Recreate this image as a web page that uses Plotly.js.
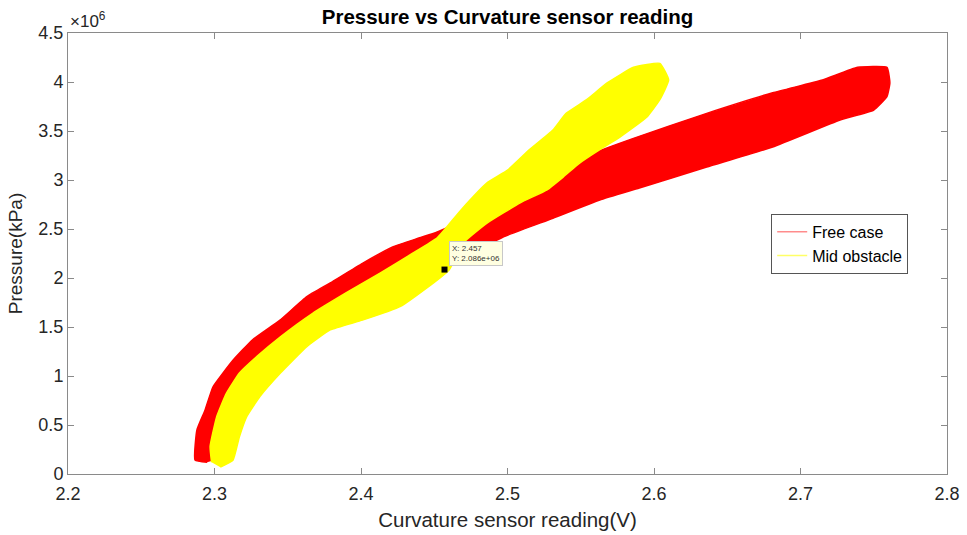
<!DOCTYPE html>
<html>
<head>
<meta charset="utf-8">
<script src="https://cdn.plot.ly/plotly-3.0.1.min.js"></script>
<style>html,body{margin:0;padding:0;background:#fff;}#chart{width:967px;height:535px;}</style>
</head>
<body>
<div id="chart"></div>
<script>
// Free case band outline (sensor reading V, pressure Pa): left/top edge going up, then right/lower edge coming down
const freeX = [2.295, 2.2867, 2.288, 2.2935, 2.299, 2.3126, 2.326, 2.3447, 2.363, 2.379, 2.401, 2.422, 2.440, 2.452, 2.49, 2.527, 2.538, 2.558, 2.585, 2.636, 2.681, 2.715, 2.739, 2.759,
               2.761, 2.759, 2.750, 2.727, 2.681, 2.636, 2.590, 2.563, 2.531, 2.497, 2.463, 2.44, 2.41, 2.37, 2.335, 2.31, 2.302];
const freeY = [0.12e6, 0.143e6, 0.45e6, 0.65e6, 0.89e6, 1.16e6, 1.37e6, 1.57e6, 1.81e6, 1.95e6, 2.15e6, 2.32e6, 2.41e6, 2.47e6, 2.72e6, 2.97e6, 3.10e6, 3.27e6, 3.42e6, 3.68e6, 3.89e6, 4.02e6, 4.15e6, 4.15e6,
               3.99e6, 3.85e6, 3.714e6, 3.612e6, 3.337e6, 3.133e6, 2.918e6, 2.796e6, 2.61e6, 2.418e6, 2.153e6, 2.0e6, 1.8e6, 1.5e6, 1.0e6, 0.5e6, 0.15e6];

// Mid obstacle band outline
const midX = [2.298, 2.297, 2.3015, 2.308, 2.317, 2.329, 2.345, 2.367, 2.390, 2.413, 2.435, 2.452, 2.468, 2.486, 2.500, 2.515, 2.531, 2.540, 2.554, 2.568, 2.586, 2.604,
              2.610, 2.604, 2.595, 2.577, 2.563, 2.549, 2.538, 2.527, 2.509, 2.486, 2.47, 2.46, 2.427, 2.401, 2.379, 2.363, 2.345, 2.331, 2.322, 2.317, 2.3126, 2.304];
const midY = [0.12e6, 0.28e6, 0.585e6, 0.82e6, 1.03e6, 1.20e6, 1.40e6, 1.64e6, 1.85e6, 2.05e6, 2.25e6, 2.41e6, 2.69e6, 2.97e6, 3.10e6, 3.31e6, 3.51e6, 3.68e6, 3.82e6, 3.99e6, 4.15e6, 4.19e6,
              4.02e6, 3.82e6, 3.64e6, 3.44e6, 3.31e6, 3.17e6, 3.03e6, 2.90e6, 2.77e6, 2.56e6, 2.36e6, 2.08e6, 1.71e6, 1.57e6, 1.47e6, 1.30e6, 1.03e6, 0.79e6, 0.585e6, 0.38e6, 0.14e6, 0.07e6];

const seriesNames = ['Free case', 'Mid obstacle'];
const tipX = [2.457];
const tipY = [2.086e6];

const xTicks = [2.2, 2.3, 2.4, 2.5, 2.6, 2.7, 2.8];
const yTicks = [0, 0.5e6, 1e6, 1.5e6, 2e6, 2.5e6, 3e6, 3.5e6, 4e6, 4.5e6];
const yTickText = ['0', '0.5', '1', '1.5', '2', '2.5', '3', '3.5', '4', '4.5'];

const FONT = 'Liberation Sans, Arial, sans-serif';
const TXT = '#262626';

const traces = [
  {x: freeX, y: freeY, type: 'scatter', mode: 'lines', fill: 'toself', fillcolor: '#ff0000',
   line: {color: '#ff0000', width: 1.5, shape: 'spline', smoothing: 0.4}, showlegend: false, hoverinfo: 'skip'},
  {x: midX, y: midY, type: 'scatter', mode: 'lines', fill: 'toself', fillcolor: '#ffff00',
   line: {color: '#ffff00', width: 1.5, shape: 'spline', smoothing: 0.4}, showlegend: false, hoverinfo: 'skip'},
  {x: [null], y: [null], type: 'scatter', mode: 'lines', name: seriesNames[0], line: {color: 'rgba(255,0,0,0.45)', width: 1.5}},
  {x: [null], y: [null], type: 'scatter', mode: 'lines', name: seriesNames[1], line: {color: 'rgba(255,255,0,0.6)', width: 1.5}},
  {x: tipX, y: tipY, type: 'scatter', mode: 'markers', showlegend: false,
   marker: {color: '#000', size: 6, symbol: 'square'}}
];

const layout = {
  width: 967, height: 535,
  margin: {l: 68, r: 20, t: 33, b: 61},
  paper_bgcolor: '#fff', plot_bgcolor: '#fff',
  font: {family: FONT, color: TXT, size: 18},
  title: {text: '<b>Pressure vs Curvature sensor reading</b>', x: 0.5, xref: 'paper', y: 0.968, yanchor: 'middle',
          font: {family: FONT, size: 20.5, color: '#000'}},
  xaxis: {range: [2.2, 2.8], tickvals: xTicks, ticktext: xTicks.map(v => v.toFixed(1)),
          showgrid: false, zeroline: false, showline: true, linecolor: '#8a8a8a', linewidth: 1, mirror: 'ticks',
          ticks: 'inside', ticklen: 6, tickcolor: '#8a8a8a', tickfont: {size: 18, color: TXT}, ticklabelstandoff: 3,
          title: {text: 'Curvature sensor reading(V)', font: {size: 20.5, color: TXT}, standoff: 10}},
  yaxis: {range: [0, 4.5e6], tickvals: yTicks, ticktext: yTickText,
          showgrid: false, zeroline: false, showline: true, linecolor: '#8a8a8a', linewidth: 1, mirror: 'ticks',
          ticks: 'inside', ticklen: 6, tickcolor: '#8a8a8a', tickfont: {size: 18, color: TXT},
          title: {text: 'Pressure(kPa)', font: {size: 19, color: TXT}, standoff: 10}},
  legend: {x: 0.8, y: 0.59, xanchor: 'left', yanchor: 'top', bgcolor: '#fff', bordercolor: '#555', borderwidth: 1,
           font: {size: 16, color: '#000'}, tracegroupgap: 0, itemwidth: 30},
  annotations: [
    {text: '×10<sup>6</sup>', xref: 'paper', yref: 'paper', x: 0, y: 1, xanchor: 'left', yanchor: 'bottom',
     showarrow: false, font: {size: 17, color: TXT}, yshift: 0},
    {text: 'X: 2.457<br>Y: 2.086e+06', xref: 'x', yref: 'y', x: tipX[0], y: tipY[0], xanchor: 'left', yanchor: 'bottom',
     xshift: 4, yshift: 4, showarrow: false, align: 'left', bgcolor: '#ffffe1', bordercolor: '#c8c8c8', borderwidth: 1,
     borderpad: 2, font: {size: 8, color: '#333'}}
  ]
};

Plotly.newPlot('chart', traces, layout, {displayModeBar: false, staticPlot: true});
</script>
</body>
</html>
